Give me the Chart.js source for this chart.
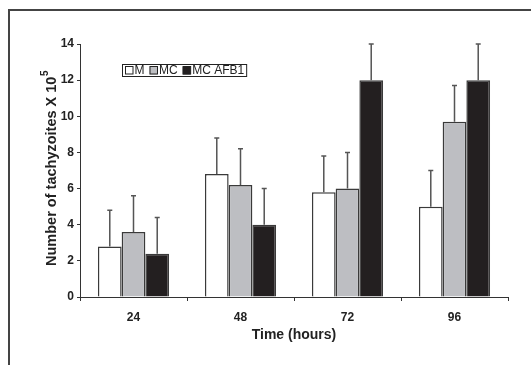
<!DOCTYPE html>
<html>
<head>
<meta charset="utf-8">
<script src="https://cdn.jsdelivr.net/npm/chart.js@4"></script>
<style>
  html, body { margin: 0; padding: 0; background: #fff; }
  #wrap { width: 531px; height: 365px; position: relative; }
</style>
</head>
<body>
<div id="wrap"><canvas id="tachyChart" width="531" height="365"></canvas></div>
<script>
const hours = ["24", "48", "72", "96"];
const seriesNames = ["M", "MC", "MC AFB1"];
const mValues = [2.8, 6.8, 5.8, 5.0];
const mcValues = [3.6, 6.2, 6.0, 9.7];
const afbValues = [2.4, 4.0, 12.0, 12.0];
const mErrors = [2.0, 2.0, 2.0, 2.0];
const mcErrors = [2.0, 2.0, 2.0, 2.0];
const afbErrors = [2.0, 2.0, 2.0, 2.0];
const yTicks = [0, 2, 4, 6, 8, 10, 12, 14];

const FONT = "'Liberation Sans', Arial, sans-serif";
const fills = ["#ffffff", "#bdbec2", "#231f20"];

// error bars drawn above each bar (positive side only)
const errorBars = {
  id: "errorBars",
  afterDatasetsDraw(chart) {
    const ctx = chart.ctx;
    const y = chart.scales.y;
    ctx.save();
    ctx.strokeStyle = "#555";
    ctx.lineWidth = 1.5;
    chart.data.datasets.forEach((ds, i) => {
      const meta = chart.getDatasetMeta(i);
      meta.data.forEach((bar, j) => {
        const top = y.getPixelForValue(ds.data[j] + ds.errors[j]);
        ctx.beginPath();
        ctx.moveTo(bar.x, bar.y);
        ctx.lineTo(bar.x, top);
        ctx.moveTo(bar.x - 2.5, top);
        ctx.lineTo(bar.x + 2.5, top);
        ctx.stroke();
      });
    });
    ctx.restore();
  }
};

// frame, titles and the small boxed legend
const decorations = {
  id: "decorations",
  afterDraw(chart) {
    const ctx = chart.ctx;
    const area = chart.chartArea;
    ctx.save();
    // outer frame (top + left, rest cut off)
    ctx.strokeStyle = "#444";
    ctx.lineWidth = 2;
    ctx.beginPath();
    ctx.moveTo(531, 10);
    ctx.lineTo(9, 10);
    ctx.lineTo(9, 365);
    ctx.stroke();

    // x title
    ctx.fillStyle = "#222";
    ctx.font = "bold 14px " + FONT;
    ctx.textAlign = "center";
    ctx.textBaseline = "middle";
    ctx.fillText("Time (hours)", (area.left + area.right) / 2, 335);

    // y title with superscript
    ctx.translate(52, (area.top + area.bottom) / 2 - 2);
    ctx.rotate(-Math.PI / 2);
    ctx.font = "bold 14.5px " + FONT;
    const main = "Number of tachyzoites X 10";
    const wMain = ctx.measureText(main).width;
    ctx.font = "bold 10px " + FONT;
    const wSup = ctx.measureText("5").width;
    const x0 = -(wMain + wSup) / 2;
    ctx.textAlign = "left";
    ctx.font = "bold 14.5px " + FONT;
    ctx.fillText(main, x0, 0);
    ctx.font = "bold 10px " + FONT;
    ctx.fillText("5", x0 + wMain + 0.5, -7);
    ctx.setTransform(1, 0, 0, 1, 0, 0);

    // legend
    ctx.font = "12px " + FONT;
    ctx.textAlign = "left";
    ctx.textBaseline = "middle";
    ctx.lineWidth = 1;
    ctx.strokeStyle = "#222";
    const lx = 122, ly = 64, lh = 12;
    let x = lx + 3;
    const items = chart.data.datasets;
    const spots = [];
    items.forEach((ds) => {
      spots.push(x);
      x += 8 + 1.5 + ctx.measureText(ds.label).width + 5;
    });
    const lw = x - 5 + 2 - lx;
    ctx.strokeRect(lx + 0.5, ly + 0.5, lw, lh);
    items.forEach((ds, i) => {
      const sx = spots[i];
      ctx.fillStyle = ds.backgroundColor;
      ctx.fillRect(sx, ly + 2.5, 8, 8);
      ctx.strokeRect(sx + 0.5, ly + 2.5, 7.5, 7.5);
      ctx.fillStyle = "#222";
      ctx.fillText(ds.label, sx + 9.5, ly + lh / 2 + 1);
    });
    ctx.restore();
  }
};

const valueSets = [mValues, mcValues, afbValues];
const errorSets = [mErrors, mcErrors, afbErrors];

const data = {
  labels: hours,
  datasets: seriesNames.map((name, i) => ({
    label: name,
    data: valueSets[i],
    errors: errorSets[i],
    backgroundColor: fills[i],
    borderColor: "#3a3a3a",
    borderWidth: 1.5,
    categoryPercentage: 0.665,
    barPercentage: 1.0
  }))
};

const config = {
  type: "bar",
  data: data,
  options: {
    responsive: false,
    animation: false,
    layout: { padding: { left: 0, right: 23, top: 44, bottom: 0 } },
    plugins: {
      legend: { display: false },
      tooltip: { enabled: false }
    },
    scales: {
      x: {
        grid: { display: true, drawOnChartArea: false, drawTicks: true, tickLength: 4, color: "#333", offset: true },
        border: { display: true, color: "#333", width: 1 },
        ticks: { color: "#222", font: { family: FONT, size: 12, weight: "bold" }, padding: 9 },
        afterFit(scale) { scale.height = 68; }
      },
      y: {
        min: 0,
        max: 14,
        afterBuildTicks(scale) { scale.ticks = yTicks.map(v => ({ value: v })); },
        grid: { display: true, drawOnChartArea: false, drawTicks: true, tickLength: 3, color: "#333" },
        border: { display: true, color: "#333", width: 1 },
        ticks: { color: "#222", font: { family: FONT, size: 12, weight: "bold" }, padding: 3 },
        afterFit(scale) { scale.width = 80; }
      }
    }
  },
  plugins: [errorBars, decorations]
};

const tachyChart = new Chart(document.getElementById("tachyChart"), config);
</script>
</body>
</html>
